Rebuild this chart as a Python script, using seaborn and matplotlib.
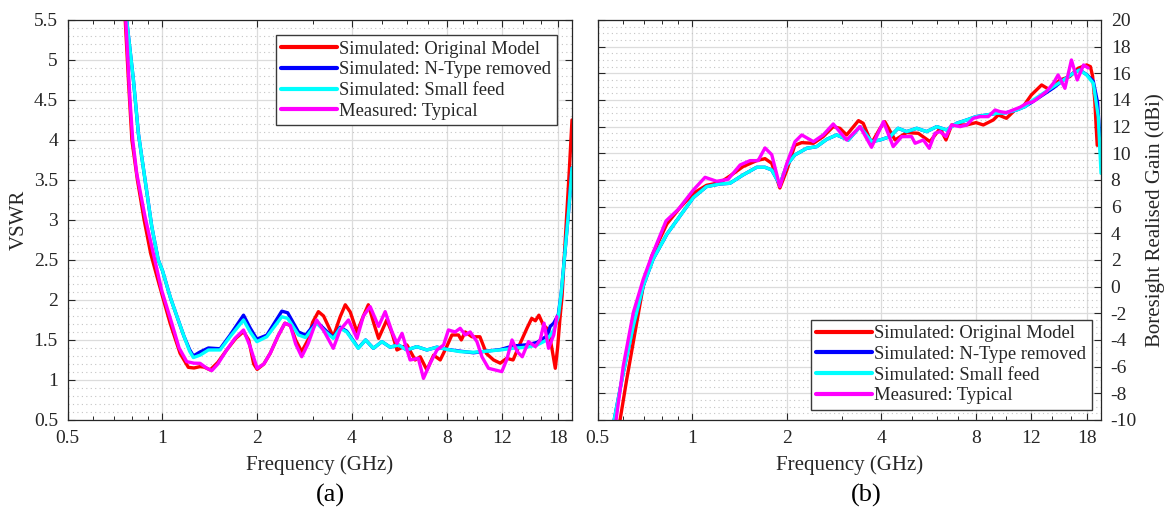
import numpy as np
import pandas as pd
import matplotlib
matplotlib.use("Agg")
import matplotlib.pyplot as plt
import seaborn as sns
from matplotlib.ticker import FixedLocator, FixedFormatter, MultipleLocator, NullFormatter

# ---------------------------------------------------------------- data
series_names = ["Simulated: Original Model", "Simulated: N-Type removed",
                "Simulated: Small feed", "Measured: Typical"]
series_colors = ["#ff0000", "#0000ff", "#00ffff", "#ff00ff"]

# VSWR (panel a)
vswr_orig_f = [0.74, 0.762, 0.78, 0.80, 0.833, 0.875, 0.918, 0.96, 1.0, 1.058, 1.138, 1.209, 1.26,
               1.317, 1.36, 1.418, 1.5, 1.60, 1.71, 1.81, 1.88, 1.95, 2.0, 2.1, 2.2, 2.33, 2.45,
               2.55, 2.65, 2.77, 2.9, 3.0, 3.13, 3.25, 3.49, 3.67, 3.81, 3.95, 4.15, 4.35, 4.51,
               4.7, 4.86, 5.16, 5.35, 5.56, 5.98, 6.35, 6.59, 6.92, 7.27, 7.63, 8.0, 8.31, 8.72,
               8.9, 9.16, 9.62, 10.2, 10.7, 11.27, 11.83, 12.4, 13.0, 13.7, 14.4, 14.9, 15.3,
               15.7, 16.2, 16.85, 17.3, 17.7, 18.0, 18.3, 18.6, 19.2, 19.6, 20.0]
vswr_orig_v = [6.3, 5.5, 4.75, 4.0, 3.5, 3.0, 2.58, 2.3, 2.05, 1.71, 1.333, 1.158, 1.15,
               1.167, 1.16, 1.125, 1.22, 1.375, 1.52, 1.604, 1.5, 1.2, 1.133, 1.2, 1.333, 1.55, 1.71,
               1.68, 1.5, 1.354, 1.5, 1.72, 1.854, 1.8, 1.54, 1.79, 1.94, 1.85, 1.60, 1.8, 1.94,
               1.7, 1.52, 1.75, 1.6, 1.375, 1.4375, 1.25, 1.29, 1.125, 1.31, 1.25, 1.417, 1.5625, 1.5625,
               1.5, 1.60, 1.54, 1.54, 1.33, 1.25, 1.21, 1.27, 1.25, 1.46, 1.65, 1.77, 1.74,
               1.81, 1.69, 1.625, 1.375, 1.146, 1.4, 1.75, 2.05, 3.0, 3.6, 4.25]

vswr_ntype_f = [0.745, 0.77, 0.809, 0.839, 0.881, 0.925, 0.97, 1.0, 1.06, 1.111, 1.17, 1.22, 1.254,
                1.317, 1.40, 1.525, 1.64, 1.81, 1.9, 1.995, 2.146, 2.395, 2.5, 2.705, 2.85, 3.09,
                3.3, 3.49, 3.67, 3.85, 4.19, 4.42, 4.68, 4.98, 5.29, 5.62, 5.98, 6.43, 6.92, 7.45,
                8.0, 8.83, 9.73, 10.7, 11.83, 13.0, 14.4, 15.5, 16.65, 17.06, 17.5, 18.1, 18.5,
                19.0, 19.5, 20.0]
vswr_ntype_v = [6.3, 5.5, 4.75, 4.08, 3.5, 2.92, 2.5, 2.37, 2.03, 1.8, 1.55, 1.38, 1.30,
                1.35, 1.40, 1.39, 1.56, 1.81, 1.65, 1.51, 1.56, 1.86, 1.84, 1.60, 1.56, 1.73,
                1.62, 1.53, 1.66, 1.61, 1.40, 1.5, 1.396, 1.479, 1.41, 1.4375, 1.375, 1.417, 1.375, 1.41,
                1.383, 1.36, 1.34, 1.36, 1.38, 1.425, 1.44, 1.47, 1.55, 1.67, 1.71, 1.82, 2.1,
                2.6, 3.1, 3.65]

vswr_small_f = vswr_ntype_f
vswr_small_v = [6.3, 5.5, 4.75, 4.08, 3.5, 2.92, 2.5, 2.37, 2.03, 1.8, 1.55, 1.36, 1.28,
                1.31, 1.375, 1.375, 1.54, 1.75, 1.6, 1.479, 1.54, 1.79, 1.77, 1.5625, 1.53, 1.71,
                1.6, 1.52, 1.646, 1.60, 1.396, 1.5, 1.396, 1.479, 1.41, 1.4375, 1.375, 1.417, 1.375, 1.41,
                1.383, 1.354, 1.346, 1.36, 1.375, 1.396, 1.41, 1.4375, 1.5, 1.56, 1.625, 1.79, 2.1,
                2.6, 3.1, 3.65]

vswr_meas_f = [0.742, 0.765, 0.789, 0.805, 0.829, 0.881, 0.936, 0.995, 1.071, 1.13, 1.195, 1.26,
               1.317, 1.38, 1.435, 1.5, 1.60, 1.70, 1.81, 1.90, 2.0, 2.1, 2.2, 2.33, 2.45, 2.55,
               2.65, 2.77, 2.9, 3.09, 3.25, 3.49, 3.67, 3.9, 4.15, 4.35, 4.57, 4.86, 5.1, 5.36,
               5.56, 5.77, 6.12, 6.5, 6.75, 7.09, 7.45, 7.82, 8.1, 8.51, 8.83, 9.16, 9.5, 9.98,
               10.35, 10.86, 11.4, 11.97, 12.4, 12.9, 13.4, 13.9, 14.55, 15.3, 15.85, 16.3,
               16.85, 17.5, 17.9]
vswr_meas_v = [6.3, 5.5, 4.5, 4.0, 3.58, 3.04, 2.58, 2.12, 1.71, 1.40, 1.229, 1.21,
               1.208, 1.15, 1.117, 1.2, 1.375, 1.52, 1.625, 1.417, 1.146, 1.2, 1.333, 1.55, 1.71, 1.68,
               1.45, 1.29, 1.45, 1.75, 1.62, 1.396, 1.625, 1.75, 1.52, 1.8, 1.917, 1.67, 1.854, 1.604,
               1.458, 1.583, 1.25, 1.27, 1.02, 1.21, 1.375, 1.4375, 1.625, 1.60, 1.646, 1.5625, 1.60, 1.479,
               1.29, 1.146, 1.125, 1.104, 1.25, 1.5, 1.354, 1.29, 1.479, 1.417, 1.5, 1.71,
               1.396, 1.5625, 1.79]

# Boresight realised gain in dBi (panel b)
gain_orig_f = [0.585, 0.589, 0.618, 0.657, 0.698, 0.743, 0.83, 0.914, 1.008, 1.11, 1.225, 1.318,
               1.45, 1.603, 1.704, 1.79, 1.90, 2.0, 2.12, 2.23, 2.43, 2.61, 2.81, 2.95, 3.10,
               3.38, 3.5, 3.72, 3.96, 4.1, 4.42, 4.81, 5.24, 5.71, 6.15, 6.42, 6.69, 7.47, 8.0,
               8.44, 9.08, 9.42, 10.0, 10.65, 11.3, 12.0, 12.94, 13.75, 14.8, 15.9, 16.9, 18.0,
               18.5, 18.8, 19.1, 19.3, 19.45]
gain_orig_g = [-11.0, -10.0, -7.0, -3.45, 0.05, 2.3, 4.7, 5.93, 7.0, 7.6, 7.8, 8.3,
               9.0, 9.45, 9.6, 9.25, 7.4, 8.75, 10.6, 10.8, 10.75, 11.25, 12.0, 11.875, 11.375,
               12.45, 12.25, 10.75, 11.875, 12.375, 11.0, 11.55, 11.5, 10.875, 11.875, 11.0, 12.125, 12.125, 12.3,
               12.125, 12.5, 12.875, 12.625, 13.25, 13.5, 14.375, 15.125, 14.75, 15.5, 15.75, 16.375, 16.625,
               16.5, 15.8, 14.0, 12.0, 10.6]

gain_ntype_f = [0.56, 0.564, 0.603, 0.649, 0.698, 0.75, 0.83, 0.914, 1.008, 1.11, 1.225, 1.318,
                1.45, 1.603, 1.704, 1.79, 1.90, 2.0, 2.12, 2.313, 2.49, 2.68, 2.88, 3.14, 3.42,
                3.72, 3.96, 4.26, 4.52, 4.81, 5.18, 5.57, 6.0, 6.45, 6.94, 7.47, 8.0, 8.65, 9.31,
                10.0, 10.78, 11.45, 12.17, 13.1, 14.1, 15.2, 16.3, 17.1, 18.0, 18.9, 19.5, 19.85, 20.0]
gain_ntype_g = [-11.0, -10.0, -6.45, -2.95, 0.05, 2.05, 3.93, 5.3, 6.68, 7.5, 7.7, 7.75,
                8.375, 8.95, 8.95, 8.75, 7.65, 9.125, 9.875, 10.375, 10.5, 11.05, 11.375, 11.0, 12.0,
                10.875, 11.0, 11.25, 11.875, 11.625, 11.875, 11.625, 12.0, 11.75, 12.25, 12.5, 12.75, 12.875, 13.0,
                13.05, 13.25, 13.5, 13.9, 14.4, 14.9, 15.5, 16.0, 16.25, 15.9, 15.4, 13.8, 11.0, 9.3]

gain_small_f = [0.56, 0.564, 0.603, 0.649, 0.698, 0.75, 0.83, 0.914, 1.008, 1.11, 1.225, 1.318,
                1.45, 1.603, 1.704, 1.79, 1.90, 2.0, 2.12, 2.313, 2.49, 2.68, 2.88, 3.14, 3.42,
                3.72, 3.96, 4.26, 4.52, 4.81, 5.18, 5.57, 6.0, 6.45, 6.94, 7.47, 8.0, 8.65, 9.31,
                10.0, 10.78, 11.45, 12.17, 13.1, 14.1, 15.2, 16.3, 17.1, 18.0, 18.9, 19.6, 20.0]
gain_small_g = [-11.0, -10.0, -6.45, -2.95, 0.05, 2.05, 3.93, 5.3, 6.68, 7.5, 7.7, 7.75,
                8.375, 8.95, 8.95, 8.75, 7.65, 9.125, 9.875, 10.375, 10.5, 11.05, 11.375, 11.0, 12.0,
                10.875, 11.0, 11.25, 11.875, 11.625, 11.875, 11.625, 12.0, 11.75, 12.25, 12.5, 12.75, 12.875, 13.0,
                13.05, 13.25, 13.5, 14.0, 14.5, 15.0, 15.5, 16.0, 16.25, 15.875, 15.25, 12.75, 8.5]

gain_meas_f = [0.568, 0.572, 0.603, 0.649, 0.698, 0.743, 0.825, 0.903, 1.008, 1.098, 1.196, 1.30,
               1.42, 1.527, 1.62, 1.704, 1.79, 1.90, 2.0, 2.123, 2.23, 2.43, 2.61, 2.81, 2.95,
               3.10, 3.42, 3.72, 4.06, 4.36, 4.64, 4.99, 5.12, 5.44, 5.68, 5.92, 6.15, 6.42,
               6.69, 7.12, 7.47, 7.84, 8.24, 8.75, 9.2, 9.54, 10.0, 10.5, 11.04, 11.6, 12.17,
               12.78, 13.4, 14.1, 14.6, 15.35, 16.1, 16.8, 17.6, 18.2]
gain_meas_g = [-11.0, -10.0, -5.95, -1.95, 0.55, 2.3, 4.93, 5.8, 7.25, 8.2, 7.9, 8.05,
               9.125, 9.45, 9.45, 10.4, 9.9, 7.5, 9.25, 10.875, 11.375, 10.875, 11.375, 12.2, 11.6,
               11.0, 12.0, 10.45, 12.375, 10.5, 11.25, 11.25, 10.75, 11.0, 10.375, 11.5, 11.625, 11.25,
               12.125, 12.0, 12.125, 12.625, 12.75, 12.75, 13.25, 13.125, 13.05, 13.25, 13.45, 13.75, 13.875,
               14.25, 14.625, 15.25, 15.875, 14.875, 17.0, 15.5, 16.625, 16.4]

freq_ticks = [0.5, 1, 2, 4, 8, 12, 18]
freq_tick_labels = ["0.5", "1", "2", "4", "8", "12", "18"]
vswr_ticks = [0.5, 1, 1.5, 2, 2.5, 3, 3.5, 4, 4.5, 5, 5.5]
vswr_tick_labels = ["0.5", "1", "1.5", "2", "2.5", "3", "3.5", "4", "4.5", "5", "5.5"]
gain_ticks = list(range(-10, 21, 2))
gain_tick_labels = [str(t) for t in gain_ticks]


def long_frame(pairs, value_name):
    parts = []
    for name, (f, v) in zip(series_names, pairs):
        parts.append(pd.DataFrame({"freq": f, value_name: v, "series": name}))
    return pd.concat(parts, ignore_index=True)


vswr_df = long_frame([(vswr_orig_f, vswr_orig_v), (vswr_ntype_f, vswr_ntype_v),
                      (vswr_small_f, vswr_small_v), (vswr_meas_f, vswr_meas_v)], "vswr")
gain_df = long_frame([(gain_orig_f, gain_orig_g), (gain_ntype_f, gain_ntype_g),
                      (gain_small_f, gain_small_g), (gain_meas_f, gain_meas_g)], "gain")

# ---------------------------------------------------------------- style
sns.set_theme(style="white")
plt.rcParams["font.family"] = ["Liberation Serif", "DejaVu Serif"]
plt.rcParams["axes.unicode_minus"] = False

ink = "#262626"
fig = plt.figure(figsize=(11.64, 5.09), dpi=100)
ax_a = fig.add_axes([0.0581, 0.1749, 0.4333, 0.7859])
ax_b = fig.add_axes([0.5135, 0.1749, 0.4324, 0.7859])


def style_axes(ax, yticks, ylabels, ylim, yminor):
    ax.set_xscale("log")
    ax.set_xlim(0.5, 20)
    ax.set_ylim(*ylim)
    ax.xaxis.set_major_locator(FixedLocator(freq_ticks))
    ax.xaxis.set_major_formatter(FixedFormatter(freq_tick_labels))
    minor_f = [0.6, 0.7, 0.8, 0.9, 3, 5, 6, 7, 9, 10, 14, 16]
    ax.xaxis.set_minor_locator(FixedLocator(minor_f))
    ax.xaxis.set_minor_formatter(NullFormatter())
    ax.yaxis.set_major_locator(FixedLocator(yticks))
    ax.yaxis.set_major_formatter(FixedFormatter(ylabels))
    ax.yaxis.set_minor_locator(MultipleLocator(yminor))
    ax.grid(True, which="major", color="#dcdcdc", lw=0.9, ls="-")
    ax.yaxis.grid(True, which="minor", color="#c4c4c4", lw=0.8, ls=(0, (1, 3)))
    ax.xaxis.grid(False, which="minor")
    ax.set_axisbelow(True)
    for s in ax.spines.values():
        s.set_color(ink)
        s.set_linewidth(0.9)
        s.set_visible(True)
    ax.tick_params(which="both", direction="in", top=True, right=True, left=True,
                   bottom=True, colors=ink, labelsize=14)
    ax.tick_params(which="major", length=5, width=0.8, pad=7)
    ax.tick_params(axis="x", which="minor", length=3, width=0.7)
    ax.tick_params(axis="y", which="minor", length=0)
    ax.set_xlabel("Frequency (GHz)", fontsize=15, color=ink, labelpad=6)


def draw(ax, df, ycol):
    sns.lineplot(data=df, x="freq", y=ycol, hue="series", hue_order=series_names,
                 palette=series_colors, estimator=None, sort=False, lw=2.4, ax=ax)


draw(ax_a, vswr_df, "vswr")
draw(ax_b, gain_df, "gain")

style_axes(ax_a, vswr_ticks, vswr_tick_labels, (0.5, 5.5), 0.1)
style_axes(ax_b, gain_ticks, gain_tick_labels, (-10, 20), 0.5)

ax_a.set_ylabel("VSWR", fontsize=15, color=ink)
ax_a.yaxis.set_label_coords(-0.078, 0.5)
ax_b.yaxis.set_label_position("right")
ax_b.tick_params(axis="y", which="both", labelleft=False, labelright=True)
ax_b.set_ylabel("Boresight Realised Gain (dBi)", fontsize=15, color=ink, labelpad=6)

legend_kw = dict(frameon=True, fancybox=False, framealpha=1, edgecolor="#3a3a3a",
                 fontsize=13.4, handlelength=3.0, handletextpad=0.12, labelspacing=0.2,
                 borderpad=0.3, borderaxespad=0)
h, l = ax_a.get_legend_handles_labels()
leg_a = ax_a.legend(h, l, loc="upper right", bbox_to_anchor=(0.970, 0.9625), **legend_kw)
h, l = ax_b.get_legend_handles_labels()
leg_b = ax_b.legend(h, l, loc="lower right", bbox_to_anchor=(0.982, 0.025), **legend_kw)
for leg in (leg_a, leg_b):
    leg.get_frame().set_linewidth(1.0)
    for line in leg.get_lines():
        line.set_linewidth(3.0)
    for t in leg.get_texts():
        t.set_color(ink)

fig.text(330 / 1164, 1 - 495 / 509, "(a)", ha="center", va="center", fontsize=19, color="black")
fig.text(866 / 1164, 1 - 495 / 509, "(b)", ha="center", va="center", fontsize=19, color="black")

fig.savefig("out.png", dpi=100, facecolor="white")
